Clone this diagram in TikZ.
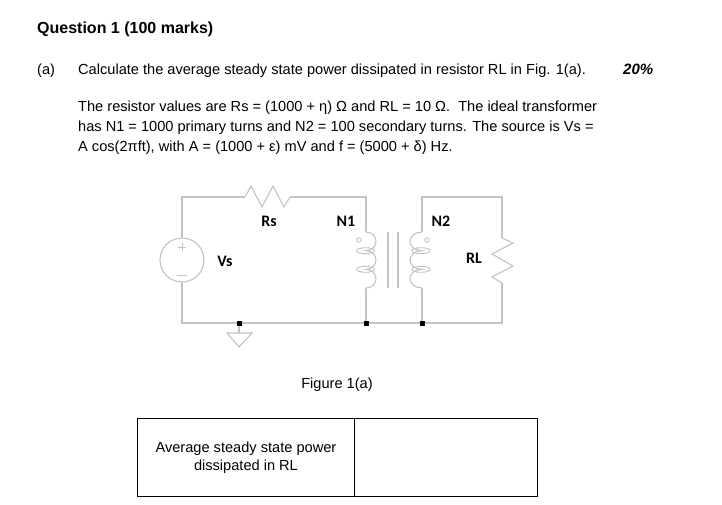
\documentclass[tikz,border=0pt]{standalone}
\usepackage{fontspec}
\setmainfont{Liberation Sans}
\newfontfamily\lblfont{Carlito}
\begin{document}
\begin{tikzpicture}[x=1pt,y=-1pt,
  txt/.style={inner sep=0pt, font=\fontsize{14.6}{17}\selectfont},
  ttl/.style={inner sep=0pt, font=\fontsize{16}{18}\selectfont\bfseries},
  lbl/.style={inner sep=0pt, font=\fontsize{16}{18}\selectfont\lblfont\bfseries},
  wire/.style={draw=wirec, line width=1.1pt},
  jdot/.style={fill=black, minimum size=5pt, inner sep=0pt, rectangle},
  tbl/.style={draw=black, line width=0.9pt}]
\definecolor{wirec}{RGB}{195,195,195}
\useasboundingbox (0,0) rectangle (722,504);
\fill[white] (0,0) rectangle (722,504);

% ---- text ----
\node[ttl, anchor=base west] (title) at (37,33) {Question 1 (100 marks)};
\node[txt, anchor=base west] (parta) at (37,74) {(a)};
\node[txt, anchor=base west] (q1) at (78,74) {Calculate the average steady state power dissipated in resistor RL in Fig. 1(a).};
\node[inner sep=0pt, anchor=base west, font=\fontsize{15}{17}\selectfont\bfseries\itshape] (pct) at (623,74) {20\%};
\node[txt, anchor=base west] (p1) at (78,111) {The resistor values are Rs = (1000 + η) Ω and RL = 10 Ω.\ \ The ideal transformer};
\node[txt, anchor=base west] (p2) at (78,131) {has N1 = 1000 primary turns and N2 = 100 secondary turns. The source is Vs =};
\node[txt, anchor=base west] (p3) at (78,151) {A cos(2πft), with A = (1000 + ε) mV and f = (5000 + δ) Hz.};

% ---- circuit coordinates ----
\coordinate (tl) at (182,197);
\coordinate (bl) at (182,323);
\coordinate (rsA) at (245,197);
\coordinate (rsB) at (290,197);
\coordinate (p1top) at (366,197);
\coordinate (p1a) at (366,232);
\coordinate (p1b) at (366,288);
\coordinate (p1bot) at (366,323);
\coordinate (s2top) at (422,197);
\coordinate (s2a) at (422,232);
\coordinate (s2b) at (422,288);
\coordinate (s2bot) at (422,323);
\coordinate (tr) at (502,197);
\coordinate (br) at (502,323);
\coordinate (rlA) at (502,238);
\coordinate (rlB) at (502,283);
\coordinate (gnd) at (239,323);
\coordinate (gndT) at (239,333);

% source
\node[circle, draw=wirec, line width=1.1pt, minimum size=44pt, inner sep=0pt] (vs) at (182,260) {};
\draw[wirec, line width=0.9pt] (178,247) -- (186,247) (182,243) -- (182,251);
\draw[wirec, line width=0.9pt] (177,275) -- (187,275);

% wires
\draw[wire] (vs.north) -- (tl) -- (rsA);
\draw[wire] (rsA) -- (251,186) -- (262,207) -- (273,186) -- (284,207) -- (rsB);
\draw[wire] (rsB) -- (p1top) -- (p1a);
\draw[wire] (p1b) -- (p1bot);
\draw[wire] (vs.south) -- (bl) -- (br) -- (rlB);
\draw[wire] (rlB) -- (492,277) -- (513,266) -- (492,254) -- (513,243) -- (rlA);
\draw[wire] (rlA) -- (tr) -- (s2top) -- (s2a);
\draw[wire] (s2b) -- (s2bot);

% primary coil
\draw[wire] (p1a) arc[start angle=-90, end angle=90, x radius=10, y radius=9.333]
  arc[start angle=-90, end angle=90, x radius=10, y radius=9.333]
  arc[start angle=-90, end angle=90, x radius=10, y radius=9.333];
\draw[wirec, line width=0.9pt] (365.5,250.7) ellipse[x radius=9, y radius=3];
\draw[wirec, line width=0.9pt] (365.5,269.3) ellipse[x radius=9, y radius=3];
\draw[wirec, line width=0.9pt] (359,240) circle[radius=2.2];

% secondary coil
\draw[wire] (s2a) arc[start angle=270, end angle=90, x radius=12, y radius=9.333]
  arc[start angle=270, end angle=90, x radius=12, y radius=9.333]
  arc[start angle=270, end angle=90, x radius=12, y radius=9.333];
\draw[wirec, line width=0.9pt] (421,250.7) ellipse[x radius=9, y radius=3];
\draw[wirec, line width=0.9pt] (421,269.3) ellipse[x radius=9, y radius=3];
\draw[wirec, line width=0.9pt] (427,240) circle[radius=2.2];

% core
\draw[wire] (388,232) -- (388,288);
\draw[wire] (398,232) -- (398,288);

% ground
\draw[wire] (gnd) -- (gndT);
\draw[wire] (227,333) -- (252,333) -- (239,347) -- cycle;

% junction dots
\node[jdot] (j1) at (gnd) {};
\node[jdot] (j2) at (p1bot) {};
\node[jdot] (j3) at (s2bot) {};

% labels
\node[lbl] (lrs) at (269,221) {Rs};
\node[lbl] (lvs) at (225,261) {Vs};
\node[lbl] (ln1) at (346,221) {N1};
\node[lbl] (ln2) at (441,221) {N2};
\node[lbl] (lrl) at (474,258) {RL};

% figure caption
\node[txt] (fig) at (337,385) {Figure 1(a)};

% table
\node[tbl, minimum width=217pt, minimum height=78pt, anchor=north west, inner sep=0pt] (cellA) at (137,418) {};
\node[tbl, minimum width=183pt, minimum height=78pt, anchor=north west, inner sep=0pt] (cellB) at (354,418) {};
\node[txt, align=center] (tt) at (cellA.center) {Average steady state power\\[1pt]dissipated in RL};
\end{tikzpicture}
\end{document}
